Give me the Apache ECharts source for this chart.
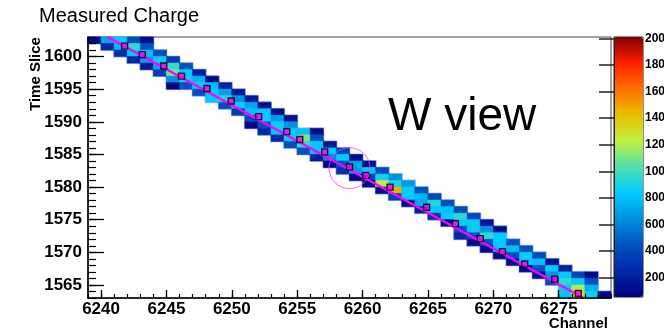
<!DOCTYPE html>
<html>
<head>
<meta charset="utf-8">
<script src="https://cdn.jsdelivr.net/npm/echarts@6/dist/echarts.min.js"></script>
<style>
  html, body { margin: 0; padding: 0; background: #fff; }
  #chart { width: 664px; height: 328px; }
</style>
</head>
<body>
<div id="chart"></div>
<script>
// Time slices of the hit rows, the first channel of each row and the charge in each cell
const rowSlice = [1602, 1601, 1600, 1599, 1598, 1597, 1596, 1595, 1594, 1593,
                  1592, 1591, 1590, 1589, 1588, 1587, 1586, 1585, 1584, 1583,
                  1582, 1581, 1580, 1579, 1578, 1577, 1576, 1575, 1574, 1573,
                  1572, 1571, 1570, 1569, 1568, 1567, 1566, 1565, 1564, 1563];
const rowStart = [6239, 6240, 6241, 6242, 6243, 6244, 6245, 6245, 6247, 6248,
                  6249, 6250, 6251, 6251, 6252, 6253, 6254, 6255, 6256, 6257,
                  6258, 6259, 6260, 6261, 6262, 6263, 6264, 6265, 6266, 6267,
                  6267, 6268, 6269, 6270, 6271, 6272, 6273, 6274, 6275, 6275];
const rowCharge = [
  [110, 720, 830, 420, 120], [260, 790, 960, 450], [280, 830, 790, 430], [240, 690, 850, 330],
  [180, 720, 970, 440], [360, 1090, 830, 210], [640, 860, 750, 110], [90, 440, 850, 800, 230],
  [430, 830, 700, 170], [830, 930, 650, 180], [430, 840, 700, 140], [350, 800, 840, 130],
  [420, 840, 680, 140], [100, 430, 850, 650], [250, 830, 840, 800, 110], [250, 850, 1100, 430],
  [430, 950, 830, 170], [440, 840, 820, 400], [200, 620, 840, 130], [100, 450, 700, 120],
  [300, 680, 840, 420], [100, 380, 870, 650], [100, 1220, 900, 680], [150, 1480, 850, 430],
  [380, 840, 760, 400], [110, 730, 930, 430], [220, 840, 800, 420], [280, 850, 950, 400],
  [120, 830, 860, 180], [420, 830, 650, 110], [250, 430, 960, 840], [110, 430, 840, 440],
  [110, 820, 790, 430], [100, 430, 850, 420], [120, 830, 800, 150], [110, 430, 830, 200],
  [110, 650, 840, 380, 100], [420, 950, 830, 430], [850, 1200, 760], [820, 1320, 860, 100]
];

// Reconstructed hits along the track
const hitChannel = [6241.8, 6243.15, 6244.8, 6246.15, 6248.1, 6249.95, 6252.05, 6254.2, 6255.2, 6257.1,
                    6259.0, 6260.25, 6262.1, 6264.9, 6267.1, 6269.0, 6270.7, 6272.4, 6274.7, 6276.5];
const hitSlice   = [1601.6, 1600.3, 1598.55, 1597.0, 1595.1, 1593.2, 1590.8, 1588.5, 1587.3, 1585.4,
                    1583.1, 1581.8, 1580.0, 1576.9, 1574.4, 1572.1, 1570.1, 1568.2, 1565.9, 1563.7];

// Fitted track ends and the circled hit
const trackChannel = [6240.5, 6276.9];
const trackSlice = [1603, 1563];
const circleChannel = [6259.0];
const circleSlice = [1582.9];

// Axis ranges and tick labels
const channelRange = [6239, 6279];
const sliceRange = [1563, 1603];
const chargeRange = [55, 2010];
const channelTicks = [6240, 6245, 6250, 6255, 6260, 6265, 6270, 6275];
const sliceTicks = [1565, 1570, 1575, 1580, 1585, 1590, 1595, 1600];
const chargeTicks = [200, 400, 600, 800, 1000, 1200, 1400, 1600, 1800, 2000];

const palette = ['#000080', '#0028a8', '#0052c0', '#0090e0', '#00ccff', '#50e0b0',
                 '#c0f040', '#e8c000', '#ff7000', '#ff2000', '#800000'];

const cells = [];
rowSlice.forEach(function (t, i) {
  rowCharge[i].forEach(function (q, k) {
    cells.push([rowStart[i] + k, t, q]);
  });
});

const FONT = 'Liberation Sans, Arial, Helvetica, sans-serif';
const plain = function (v) { return String(Math.round(v)); };
const tickFont = { fontSize: 17, fontWeight: 'bold', color: '#000', fontFamily: FONT, formatter: plain };
const paletteFont = { fontSize: 12, fontWeight: 'bold', color: '#000', fontFamily: FONT, formatter: plain };

function cellRect(api, grow) {
  const c = api.value(0), t = api.value(1);
  const p0 = api.coord([c, t + 1]);
  const p1 = api.coord([c + 1, t]);
  return {
    x: p0[0] - grow, y: p0[1] - grow,
    width: p1[0] - p0[0] + 2 * grow, height: p1[1] - p0[1] + 2 * grow
  };
}

const chart = echarts.init(document.getElementById('chart'), null, { renderer: 'canvas' });

const plotBox = { left: 88, top: 37, width: 523, height: 261, outerBoundsMode: 'none' };

chart.setOption({
  animation: false,
  backgroundColor: '#fff',
  title: [
    { text: 'Measured Charge', left: 39, top: 6, padding: 0,
      textStyle: { fontSize: 20, fontWeight: 'normal', color: '#000', fontFamily: FONT } },
    { text: 'W view', left: 388, top: 94, padding: 0,
      textStyle: { fontSize: 46, fontWeight: 'normal', color: '#000', fontFamily: FONT } }
  ],
  grid: [
    Object.assign({ show: true, borderColor: '#444', borderWidth: 1, backgroundColor: 'transparent' }, plotBox),
    Object.assign({ show: false }, plotBox),
    { left: 614, top: 37, width: 29, height: 260, show: true, borderColor: '#222', borderWidth: 1,
      backgroundColor: 'transparent', outerBoundsMode: 'none' }
  ],
  xAxis: [
    { gridIndex: 0, type: 'value', min: channelRange[0], max: channelRange[1], z: 10,
      axisLine: { lineStyle: { color: '#000', width: 1.6 } },
      axisTick: { inside: true, length: 8, customValues: channelTicks, lineStyle: { color: '#000', width: 1.3 } },
      axisLabel: Object.assign({ customValues: channelTicks, margin: 3 }, tickFont),
      splitLine: { show: false } },
    { gridIndex: 1, type: 'value', min: channelRange[0], max: channelRange[1], interval: 1, z: 10,
      axisLine: { show: false },
      axisTick: { inside: true, length: 4, lineStyle: { color: '#000', width: 1.2 } },
      axisLabel: { show: false }, splitLine: { show: false } },
    { gridIndex: 2, type: 'value', min: 0, max: 1, show: false }
  ],
  yAxis: [
    { gridIndex: 0, type: 'value', min: sliceRange[0], max: sliceRange[1], z: 10,
      axisLine: { lineStyle: { color: '#000', width: 1.6 } },
      axisTick: { inside: true, length: 16, customValues: sliceTicks, lineStyle: { color: '#000', width: 1.3 } },
      axisLabel: Object.assign({ customValues: sliceTicks, margin: 6 }, tickFont),
      splitLine: { show: false } },
    { gridIndex: 1, type: 'value', min: sliceRange[0], max: sliceRange[1], interval: 1, z: 10,
      axisLine: { show: false },
      axisTick: { inside: true, length: 8, lineStyle: { color: '#000', width: 1.2 } },
      axisLabel: { show: false }, splitLine: { show: false } },
    { gridIndex: 2, type: 'value', position: 'right', min: chargeRange[0], max: chargeRange[1], z: 10,
      axisLine: { show: true, lineStyle: { color: '#222', width: 1 } },
      axisTick: { inside: true, length: 15, customValues: chargeTicks, lineStyle: { color: '#222', width: 1.5 } },
      axisLabel: Object.assign({ customValues: chargeTicks, margin: 2 }, paletteFont),
      splitLine: { show: false } }
  ],
  visualMap: {
    type: 'continuous', min: chargeRange[0], max: chargeRange[1], dimension: 2, seriesIndex: 1,
    left: 614, top: 37, itemWidth: 29, itemHeight: 260, padding: 0,
    calculable: false, hoverLink: false, text: null,
    inRange: { color: palette }
  },
  graphic: [
    { type: 'text', x: 36, y: 74, rotation: Math.PI / 2,
      style: { text: 'Time Slice', font: 'bold 15px ' + FONT, fill: '#000', align: 'center', verticalAlign: 'middle' } },
    { type: 'text', x: 608, y: 316,
      style: { text: 'Channel', font: 'bold 15px ' + FONT, fill: '#000', align: 'right', verticalAlign: 'top' } }
  ],
  series: [
    { // soft outline of the hit cells
      type: 'custom', xAxisIndex: 0, yAxisIndex: 0, data: cells, z: 2,
      encode: { x: 0, y: 1 },
      renderItem: function (params, api) {
        return { type: 'rect', shape: cellRect(api, 1), style: { fill: 'rgba(120,140,225,0.55)' } };
      }
    },
    { // charge per channel and time slice
      type: 'custom', xAxisIndex: 0, yAxisIndex: 0, data: cells, z: 3,
      encode: { x: 0, y: 1 },
      renderItem: function (params, api) {
        const col = api.visual('color');
        return { type: 'rect', shape: cellRect(api, 0), style: { fill: col, stroke: col, lineWidth: 0.6 } };
      }
    },
    { // fitted track
      type: 'line', xAxisIndex: 0, yAxisIndex: 0, z: 5, symbol: 'none',
      data: trackChannel.map(function (c, i) { return [c, trackSlice[i]]; }),
      lineStyle: { color: '#ff00ff', width: 2.5 }
    },
    { // reconstructed hits
      type: 'scatter', xAxisIndex: 0, yAxisIndex: 0, z: 6, symbol: 'rect', symbolSize: 6,
      data: hitChannel.map(function (c, i) { return [c, hitSlice[i]]; }),
      itemStyle: { color: '#ff00ff', borderColor: '#000', borderWidth: 1.4 }
    },
    { // circled hit
      type: 'scatter', xAxisIndex: 0, yAxisIndex: 0, z: 6, symbol: 'circle', symbolSize: 41,
      data: circleChannel.map(function (c, i) { return [c, circleSlice[i]]; }),
      itemStyle: { color: 'rgba(0,0,0,0)', borderColor: '#ff33ff', borderWidth: 1 }
    }
  ]
});
</script>
</body>
</html>
